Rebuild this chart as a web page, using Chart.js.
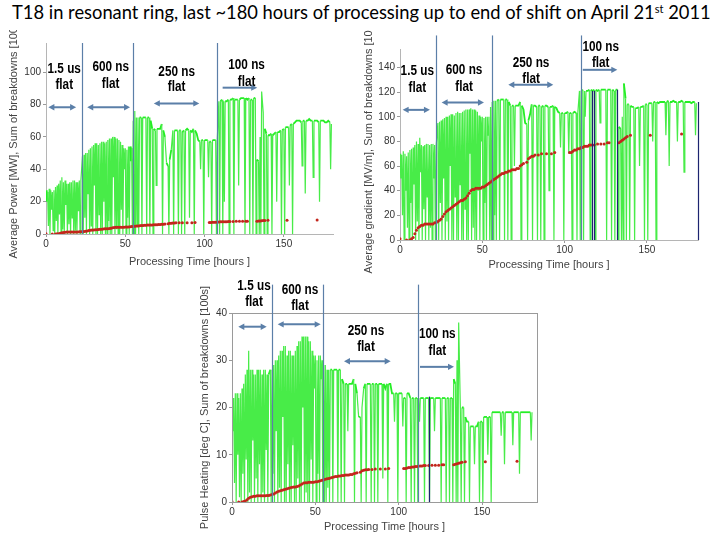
<!DOCTYPE html>
<html><head><meta charset="utf-8">
<script src="https://cdn.jsdelivr.net/npm/chart.js@4/dist/chart.umd.min.js"></script>
<style>
html,body{margin:0;padding:0;background:#fff;width:720px;height:540px;overflow:hidden;position:relative}
canvas{position:absolute}
#title{position:absolute;left:12px;top:1px;white-space:nowrap;font-family:Lato,'Open Sans',sans-serif;color:#000;font-size:20px;line-height:1.2}
#title sup{font-size:0.6em;vertical-align:0.55em;line-height:0}
</style></head><body>
<div id="title">T18 in resonant ring, last ~180 hours of processing up to end of shift on April 21<sup>st</sup> 2011</div>
<canvas id="c1" width="345" height="245" style="left:0;top:30px"></canvas>
<canvas id="c2" width="360" height="245" style="left:360px;top:30px"></canvas>
<canvas id="c3" width="360" height="260" style="left:190px;top:280px"></canvas>
<script>
// ---------- DATA ----------
const hours = Array.from({length: 181}, (_, i) => i); // processing time [hours], hourly plateau readings

// plateau levels (hourly)
const averagePowerMW = [
  27,26,28,27,26,27,29,30,31,33,
  35,32,33,31,31,32,32,33,33,32,
  32,33,33,48,49,50,50,52,53,54,
  55,56,56,55,56,57,57,56,57,58,
  59,59,60,60,59,59,58,57,55,53,
  53,52,54,54,53,70,76,72,72,72,
  72,72,72,72,72,72,70,65,65,64,
  65,65,65,68,64,60,44,42,46,52,
  64,64,64,64,64,64,63,64,64,65,
  64,64,63,65,64,62,58,57,58,58,
  58,58,58,57,57,58,58,58,58,82,
  82,83,82,82,82,83,83,83,84,83,
  83,83,83,84,84,84,84,83,84,83,
  83,84,84,46,45,60,88,75,65,62,
  61,61,62,61,62,63,63,63,64,64,
  65,66,66,66,67,68,68,69,70,70,
  70,69,70,70,70,70,71,70,70,70,
  70,70,69,70,70,70,69,69,70,69,
  68
];
const averageGradientMVm = [
  70,69,72,70,68,71,73,74,75,77,
  80,78,83,77,76,77,78,78,77,78,
  78,77,77,95,96,97,98,99,100,100,
  101,102,102,101,103,104,103,103,104,105,
  106,106,106,107,106,106,105,104,101,100,
  100,99,100,100,100,108,112,113,113,113,
  114,114,114,114,114,114,112,109,109,109,
  109,109,109,112,109,106,95,94,97,102,
  110,109,109,108,109,109,108,109,109,109,
  108,108,108,109,108,107,104,103,103,103,
  103,103,104,103,103,103,104,103,103,121,
  121,122,121,121,121,122,122,121,122,122,
  121,122,122,122,122,122,122,122,122,122,
  121,122,122,92,90,100,127,115,110,110,
  109,108,108,107,107,108,108,108,109,110,
  110,111,111,111,112,112,112,111,112,112,
  112,112,112,113,112,112,113,112,112,112,
  112,113,112,112,112,112,112,111,112,112,
  111
];
const pulseHeatingDegC = [
  22,22,23,23,22,23,24,25,27,28,
  32,28,28,27,27,28,28,28,27,28,
  28,27,27,28,28,29,30,30,31,32,
  32,33,33,31,32,32,31,31,32,33,
  34,34,35,35,35,35,34,34,32,31,
  31,30,31,31,30,29,29,28,28,28,
  28,28,28,28,28,28,26,25,25,25,
  25,25,25,26,25,23,18,18,20,24,
  25,25,25,25,25,25,25,25,25,25,
  25,25,24,25,25,25,23,23,23,23,
  23,23,23,22,22,23,23,22,22,22,
  22,22,22,22,22,22,22,22,22,22,
  22,22,22,22,22,22,22,22,22,22,
  22,22,22,26,25,30,38,20,20,20,
  18,17,17,16,16,16,16,16,17,17,
  17,18,18,18,18,18,19,19,19,19,
  19,19,19,19,19,19,19,19,19,19,
  19,19,19,19,19,19,19,19,19,19,
  19
];

// breakdown trips: times [hours] and the value each trace dropped to
const tripHours = [
  0.5,1.5,2.5,3.5,4.5,5.5,6.5,7.5,8.5,9.5,10.5,11.5,12.5,13.5,14.5,15.5,16.5,17.5,18.5,19.5,20.5,21.5,
  23.5,24.5,25.5,26.5,27.5,28.5,29.5,30.5,31.5,32.5,33.5,34.5,35.5,36.5,37.5,38.5,39.5,40.5,41.5,42.5,43.5,44.5,45.5,46.5,47.5,48.5,49.5,50.5,51.5,52.5,53.5,54.5,
  55.5,56.5,57.5,58.5,60.5,63.5,65.5,67.5,69.5,73.5,77.5,80.5,83.5,85.5,87.5,90.5,93.5,97.5,99.5,102.5,104.5,
  107.5,109.5,111.5,112.5,115.5,118.5,121.5,125.5,128.5,130.5,132.5,134.5,135.5,137.5,139.5,142.5,145.5,148.5,150.5,153.5,155.5,161.5,163.5,168.5,172.5,179.5
];
const tripPowerMW = [
  20,5,0,15,2,0,8,0,12,0,3,0,18,0,6,0,10,0,2,0,14,0,
  0,10,0,25,0,5,0,30,0,0,12,0,0,20,0,0,8,0,0,35,0,3,0,0,15,0,40,0,10,0,45,0,
  0,0,5,0,0,0,0,0,30,0,0,0,0,0,0,10,0,40,0,35,0,
  0,0,0,20,0,0,30,0,0,0,0,0,0,0,0,0,20,0,0,30,0,42,25,35,20,40
];
const tripGradientMVm = [
  50,20,0,40,10,0,30,0,45,0,15,0,55,0,25,0,35,0,10,0,50,0,
  0,30,0,50,0,15,0,60,0,0,35,0,0,45,0,0,25,0,0,70,0,10,0,0,40,0,80,0,30,0,85,0,
  0,0,20,0,0,0,0,0,60,0,0,0,0,0,0,40,0,75,0,70,0,
  0,0,0,100,0,0,95,0,0,0,0,0,0,0,0,0,60,0,0,80,0,85,60,80,55,85
];
const tripHeatingDegC = [
  15,4,0,10,1,0,6,0,9,0,2,0,13,0,5,0,8,0,2,0,11,0,
  0,6,0,15,0,3,0,18,0,0,8,0,0,12,0,0,5,0,0,20,0,2,0,0,9,0,24,0,6,0,26,0,
  0,0,3,0,0,0,0,0,15,0,0,0,0,0,0,5,0,17,0,16,0,
  0,0,0,17,0,0,15,0,0,0,0,0,0,0,0,0,8,0,0,10,0,14,8,12,6,13
];

const breakdownHours = [0,4,6,7,8,9,10,11,12,13,14,15,16,17,18,19,20,21,22,23,24,25,26,27,28,29,30,31,32,33,34,35,36,37,38,39,40,41,42,43,44,45,46,47,48,49,50,51,52,53,54,55,56,57,58,59,60,61,62,63,64,65,66,67,68,69,70,71,72,73,74,75,77,78,79,80,81,82,84,86,89,92,94,103,104,105,106,107,108,109,110,111,112,113,114,115,116,118,120,122,124,126,127,133,134,135,136,137,138,140,152,171];
// Sum of breakdowns as shown on the power and pulse-heating panels
const breakdownSum = [0.1,0,0,0.1,0.2,0.5,0.8,1.0,1.1,1.2,1.2,1.3,1.3,1.3,1.3,1.3,1.3,1.4,1.4,1.5,1.6,1.7,1.9,2.1,2.3,2.4,2.5,2.6,2.7,2.8,2.9,3.0,3.1,3.2,3.2,3.3,3.4,3.6,3.8,4.0,4.1,4.1,4.2,4.2,4.2,4.2,4.3,4.3,4.4,4.5,4.6,4.7,4.8,4.9,5.0,5.1,5.2,5.3,5.4,5.4,5.5,5.5,5.6,5.6,5.7,5.7,5.7,5.8,5.8,6.0,6.1,6.2,6.3,6.6,6.7,6.8,6.8,6.9,6.9,7.0,7.0,7.0,7.1,7.1,7.1,7.2,7.3,7.3,7.4,7.4,7.5,7.5,7.6,7.6,7.6,7.7,7.7,7.7,7.8,7.8,7.8,7.9,7.9,7.9,8.0,8.1,8.2,8.3,8.4,8.5,8.5,8.6];
// Sum of breakdowns as shown on the gradient panel
const breakdownSumGradient = [1,0,0,1,2,5,8,10,11,12,12,13,13,13,13,13,13,14,14,15,16,17,19,21,23,24,25,26,27,28,29,30,31,32,32,33,34,36,38,40,41,41,42,42,42,42,43,43,44,45,46,47,48,49,50,51,52,53,54,54,55,55,56,56,57,57,57,58,58,60,61,62,63,66,67,68,68,69,69,70,70,70,71,71,71,72,73,73,74,74,75,75,76,76,76,77,77,77,78,78,78,79,79,79,80,81,82,83,84,85,85,86];

const xTickValues = [0, 50, 100, 150];
const yTicksPower = [0, 20, 40, 60, 80, 100];
const yTicksGradient = [0, 20, 40, 60, 80, 100, 120, 140];
const yTicksHeating = [0, 10, 20, 30, 40];

const pulseSections = ['1.5 us', '600 ns', '250 ns', '100 ns'];

// ---------- RENDER ----------
const GREEN = 'rgb(36,238,36)';
const GREEN_PALE = 'rgb(72,236,72)';
const RED = '#c3261c';
const STEEL = '#5b7fa8';
const NAVY = '#1c2470';
const TICKFONT = "'Liberation Sans Narrow','Liberation Sans',Arial,sans-serif";

function overlayPlugin(ann) {
  return {
    id: 'overlay',
    afterDatasetsDraw(chart) {
      const {ctx, chartArea: a} = chart;
      const x = chart.scales.x, y = chart.scales.y;
      ctx.save();
      if (ann.frame) {
        ctx.strokeStyle = '#9a9a9a'; ctx.lineWidth = 1;
        ctx.strokeRect(Math.round(a.left) + 0.5, Math.round(a.top) + 0.5, a.right - a.left, a.bottom - a.top);
      }
      ctx.strokeStyle = STEEL; ctx.lineWidth = 1.2;
      ann.sections.forEach(h => {
        const px = Math.round(x.getPixelForValue(h)) + 0.5;
        ctx.beginPath(); ctx.moveTo(px, y.getPixelForValue(ann.sectionTop)); ctx.lineTo(px, a.bottom); ctx.stroke();
      });
      ctx.strokeStyle = NAVY; ctx.lineWidth = 1.2;
      (ann.dark || []).forEach(d => {
        const px = Math.round(x.getPixelForValue(d[0])) + 0.5;
        ctx.beginPath(); ctx.moveTo(px, y.getPixelForValue(d[1])); ctx.lineTo(px, a.bottom); ctx.stroke();
      });
      ctx.strokeStyle = STEEL; ctx.fillStyle = STEEL; ctx.lineWidth = 2;
      ann.arrows.forEach(ar => {
        const x1 = x.getPixelForValue(ar[0]), x2 = x.getPixelForValue(ar[1]), py = y.getPixelForValue(ar[2]);
        const both = ar[3];
        ctx.beginPath(); ctx.moveTo(both ? x1 + 4 : x1, py); ctx.lineTo(x2 - 4, py); ctx.stroke();
        const head = (tip, dir) => {
          ctx.beginPath(); ctx.moveTo(tip, py); ctx.lineTo(tip - dir * 6, py - 3.2); ctx.lineTo(tip - dir * 6, py + 3.2); ctx.closePath(); ctx.fill();
        };
        head(x2, 1); if (both) head(x1, -1);
      });
      ctx.fillStyle = '#000'; ctx.textAlign = 'center'; ctx.textBaseline = 'middle';
      ctx.font = "bold 14px 'Liberation Sans',Arial,sans-serif";
      const put = (txt, px, py) => { ctx.save(); ctx.translate(px, py); ctx.scale(0.84, 1); ctx.fillText(txt, 0, 0); ctx.restore(); };
      ann.labels.forEach((lb, i) => {
        const px = x.getPixelForValue(lb[0]);
        put(pulseSections[i], px, y.getPixelForValue(lb[1]));
        put('flat', px, y.getPixelForValue(lb[2]));
      });
      ctx.restore();
    }
  };
}

function makeChart(id, cfg) {
  const green = hours.map((h, i) => ({x: h, y: cfg.levels[i]}))
    .concat(tripHours.map((h, i) => ({x: h, y: cfg.trips[i]})))
    .sort((p, q) => p.x - q.x);
  const red = breakdownHours.map((h, i) => ({x: h, y: cfg.breakdowns[i]}));
  const steep = c => Math.abs(c.p0.parsed.y - c.p1.parsed.y) > cfg.yMax * 0.08;
  return new Chart(document.getElementById(id), {
    type: 'line',
    data: {
      datasets: [
        {data: red, showLine: false, pointRadius: 1.5, pointBackgroundColor: RED, pointBorderWidth: 0, order: 0},
        {data: green, borderColor: GREEN, borderWidth: 1.8, pointRadius: 0, tension: 0, order: 1,
         segment: {borderColor: c => steep(c) ? GREEN_PALE : GREEN, borderWidth: c => steep(c) ? 1.2 : 1.8}}
      ]
    },
    options: {
      responsive: false, animation: false, devicePixelRatio: 1,
      layout: {autoPadding: false, padding: {left: 0, top: cfg.padTop, right: cfg.padRight, bottom: 0}},
      plugins: {legend: {display: false}, tooltip: {enabled: false}},
      scales: {
        x: {
          type: 'linear', min: 0, max: cfg.xMax,
          afterBuildTicks: s => { s.ticks = xTickValues.map(v => ({value: v})); },
          afterFit: s => { s.height = cfg.xHeight; },
          grid: {display: true, drawOnChartArea: false, tickLength: 3, color: '#9a9a9a'},
          border: {display: true, color: '#b5b5b5'},
          ticks: {font: {family: TICKFONT, size: 10}, color: '#333', padding: 1, maxRotation: 0},
          title: {display: true, text: 'Processing Time [hours ]', font: {family: TICKFONT, size: 11}, color: '#444', padding: {top: 0, bottom: cfg.xTitlePad}}
        },
        y: {
          type: 'linear', min: 0, max: cfg.yMax,
          afterBuildTicks: s => { s.ticks = cfg.yTicks.map(v => ({value: v})); },
          afterFit: s => { s.width = cfg.yWidth; },
          grid: {display: true, drawOnChartArea: false, tickLength: 3, color: '#9a9a9a'},
          border: {display: true, color: '#b5b5b5'},
          ticks: {font: {family: TICKFONT, size: 10}, color: '#333', padding: 2},
          title: {display: true, text: cfg.yTitle, font: {family: TICKFONT, size: 11}, color: '#444', padding: {top: cfg.yTitlePad, bottom: 0}}
        }
      }
    },
    plugins: [overlayPlugin(cfg.ann)]
  });
}

makeChart('c1', {
  levels: averagePowerMW, trips: tripPowerMW, breakdowns: breakdownSum,
  yTitle: 'Average Power [MW], Sum of breakdowns [100s]', yTicks: yTicksPower,
  xMax: 181, yMax: 118, padTop: 13, padRight: 12, yWidth: 46, xHeight: 41, xTitlePad: 6, yTitlePad: 7,
  ann: {
    sections: [22.5, 55, 107.7], sectionTop: 118,
    arrows: [[1.5, 19, 78.3, true], [26, 53, 78.3, true], [68, 96.7, 80.7, true], [111.4, 133.2, 90.4, false]],
    labels: [[11.5, 102, 92], [40.8, 103, 92.6], [82.4, 100.3, 90.6], [126.5, 104.4, 94]]
  }
});

makeChart('c2', {
  levels: averageGradientMVm, trips: tripGradientMVm, breakdowns: breakdownSumGradient,
  yTitle: 'Average gradient [MV/m], Sum of breakdowns [100s]', yTicks: yTicksGradient,
  xMax: 181, yMax: 155, padTop: 19, padRight: 22, yWidth: 40, xHeight: 35, xTitlePad: 3, yTitlePad: 2,
  ann: {
    sections: [22, 55.7, 110], sectionTop: 166,
    dark: [[116.7, 121], [118, 121], [132, 122], [181, 112]],
    arrows: [[1.6, 18.2, 105.6, true], [25.3, 51, 111.6, true], [65.8, 93.1, 126, true], [111, 132, 138.1, false]],
    labels: [[10.5, 136.8, 123.2], [38.9, 137.6, 124], [79.6, 143.6, 130.6], [121.9, 156.6, 143.6]]
  }
});

makeChart('c3', {
  levels: pulseHeatingDegC, trips: tripHeatingDegC, breakdowns: breakdownSum,
  yTitle: 'Pulse Heating [deg C], Sum of breakdowns [100s]', yTicks: yTicksHeating,
  xMax: 183, yMax: 40, padTop: 33, padRight: 13, yWidth: 42, xHeight: 38, xTitlePad: 6, yTitlePad: 8,
  ann: {
    frame: true,
    sections: [24.2, 54.8, 111.4], sectionTop: 46,
    dark: [[118.4, 22.3]],
    arrows: [[3.8, 20.8, 37.1, true], [27.4, 53.2, 37.6, true], [67.2, 95.2, 29.8, true], [112.8, 133.2, 28.6, false]],
    labels: [[13.2, 45.6, 42.3], [40.8, 44.9, 41.5], [80.4, 36.2, 32.7], [123.2, 35.5, 32]]
  }
});

const t = document.getElementById('title');
const w = t.getBoundingClientRect().width;
t.style.fontSize = (20 * 699 / w) + 'px';
</script>
</body></html>
